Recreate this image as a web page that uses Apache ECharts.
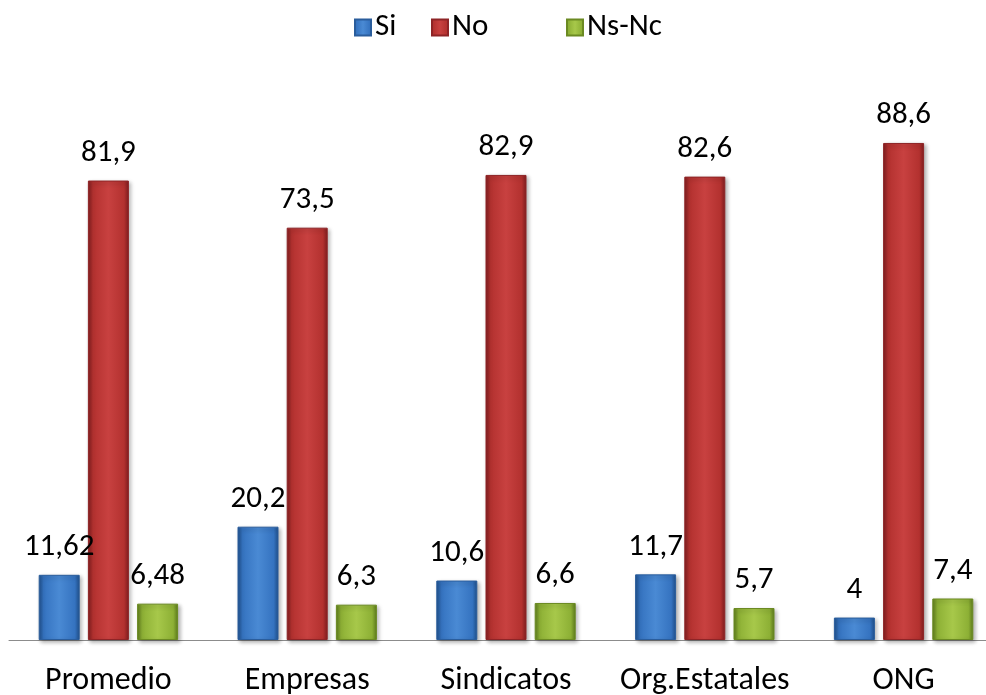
<!DOCTYPE html>
<html>
<head>
<meta charset="utf-8">
<script src="https://cdn.jsdelivr.net/npm/echarts@6/dist/echarts.min.js"></script>
<style>html,body{margin:0;padding:0;background:#fff}#wrap{width:986px;height:695px;overflow:hidden;position:relative}#c{position:absolute;left:0;top:0;width:1003px;height:695px}</style>
</head>
<body>
<div id="wrap"><div id="c"></div></div>
<script>
const categories = ['Promedio', 'Empresas', 'Sindicatos', 'Org.Estatales', 'ONG'];
const seriesNames = ['Si', 'No', 'Ns-Nc'];
const siValues = [11.62, 20.2, 10.6, 11.7, 4];
const noValues = [81.9, 73.5, 82.9, 82.6, 88.6];
const nsncValues = [6.48, 6.3, 6.6, 5.7, 7.4];

const FONT = 'Carlito, Lato, "Open Sans", sans-serif';

function grad(dark, mid, light) {
  return new echarts.graphic.LinearGradient(0, 0, 1, 0, [
    {offset: 0, color: dark},
    {offset: 0.12, color: mid},
    {offset: 0.5, color: light},
    {offset: 0.88, color: mid},
    {offset: 1, color: dark}
  ]);
}
const palettes = [
  {dark: '#1f4f8a', mid: '#3573c0', light: '#4a8ad4', border: '#2a5d9c'},
  {dark: '#7f1d1f', mid: '#b3312f', light: '#c84140', border: '#8e2426'},
  {dark: '#5c7a1c', mid: '#8db035', light: '#a7c84a', border: '#6b8a22'}
];
const fmt = p => String(p.value).replace('.', ',');

function mkSeries(name, data, pal) {
  return {
    name: name,
    type: 'bar',
    data: data,
    barWidth: 41,
    barGap: '20%',
    itemStyle: {
      color: grad(pal.dark, pal.mid, pal.light),
      borderColor: pal.border,
      borderWidth: 1,
      shadowBlur: 4,
      shadowColor: 'rgba(0,0,0,0.3)',
      shadowOffsetX: 2,
      shadowOffsetY: 2
    },
    label: {
      show: true,
      position: 'top',
      distance: 12,
      formatter: fmt,
      fontFamily: FONT,
      fontSize: 31,
      color: '#000'
    }
  };
}

const chart = echarts.init(document.getElementById('c'), null, {renderer: 'canvas'});
const legendBase = {
  itemWidth: 16, itemHeight: 16, itemGap: 4, top: 7, icon: 'rect',
  textStyle: {fontFamily: FONT, fontSize: 31, color: '#000', padding: [0, 0, 0, -1]},
  selectedMode: false
};
chart.setOption({
  animation: false,
  color: [palettes[0].mid, palettes[1].mid, palettes[2].mid],
  legend: [
    Object.assign({}, legendBase, {left: 349, data: [seriesNames[0]]}),
    Object.assign({}, legendBase, {left: 426, data: [seriesNames[1]]}),
    Object.assign({}, legendBase, {left: 561, data: [seriesNames[2]]})
  ],
  grid: {left: 9, top: 79, width: 994, bottom: 55, containLabel: false, outerBoundsMode: 'none'},
  xAxis: {
    type: 'category',
    data: categories,
    axisLine: {show: true, lineStyle: {color: '#8c8c8c', width: 1}},
    axisTick: {show: false},
    axisLabel: {interval: 0, fontFamily: FONT, fontSize: 32, color: '#000', margin: 25}
  },
  yAxis: {
    type: 'value',
    min: 0, max: 100, interval: 20,
    show: false,
    splitLine: {show: false}
  },
  series: [
    mkSeries(seriesNames[0], siValues, palettes[0]),
    mkSeries(seriesNames[1], noValues, palettes[1]),
    mkSeries(seriesNames[2], nsncValues, palettes[2])
  ]
});
</script>
</body>
</html>
